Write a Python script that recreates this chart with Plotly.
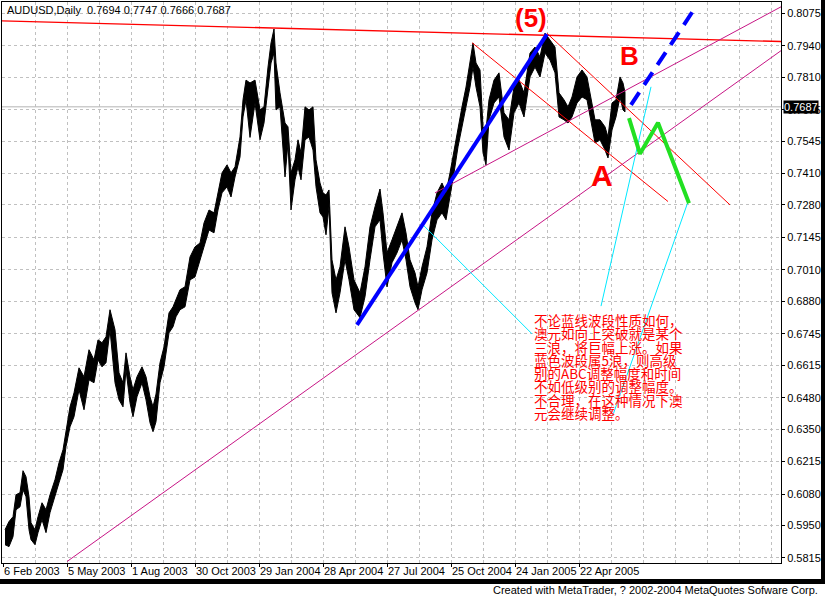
import plotly.graph_objects as go

# ---------------- data ----------------
symbol_text = "AUDUSD,Daily"
last_ohlc = [0.7694, 0.7747, 0.7666, 0.7687]

# bar index = trading days since 6 Feb 2003 (one pixel per bar in the original)
bar_idx = [2, 6, 10, 13, 17, 20, 23, 26, 28, 32, 35, 39, 43, 47, 52, 56, 60, 63, 67, 71,
           76, 81, 86, 91, 95, 99, 103, 107, 112, 116, 120, 123, 127, 130, 134, 139, 143, 147, 150, 153,
           157, 161, 166, 170, 173, 177, 182, 187, 192, 197, 201, 206, 211, 215, 219, 224, 228, 232, 237, 240,
           243, 247, 252, 257, 261, 265, 268, 271, 273, 277, 282, 285, 288, 292, 295, 298, 302, 306, 310, 313,
           317, 320, 323, 326, 329, 333, 337, 342, 346, 351, 357, 362, 367, 372, 377, 380, 384, 389, 394, 399,
           403, 407, 412, 415, 419, 424, 429, 434, 439, 443, 447, 451, 455, 459, 463, 467, 470, 473, 477, 480,
           483, 486, 491, 496, 501, 506, 511, 516, 521, 527, 532, 537, 542, 547, 552, 556, 561, 565, 569, 574,
           579, 584, 588, 592, 597, 602, 605, 609, 613, 617, 620, 622]
high = [0.5932, 0.5966, 0.5986, 0.6077, 0.6086, 0.6177, 0.6152, 0.6069, 0.5961, 0.5932, 0.5986, 0.6044, 0.6015, 0.6077, 0.6140, 0.6210, 0.6264, 0.6347, 0.6442, 0.6500,
        0.6604, 0.6567, 0.6679, 0.6637, 0.6720, 0.6708, 0.6733, 0.6845, 0.6762, 0.6583, 0.6542, 0.6666, 0.6567, 0.6513, 0.6567, 0.6608, 0.6567, 0.6484, 0.6442, 0.6495,
        0.6625, 0.6691, 0.6832, 0.6857, 0.6886, 0.6928, 0.6940, 0.7064, 0.7106, 0.7122, 0.7205, 0.7259, 0.7247, 0.7330, 0.7413, 0.7446, 0.7413, 0.7438, 0.7562, 0.7716,
        0.7798, 0.7786, 0.7798, 0.7674, 0.7687, 0.7852, 0.7952, 0.8010, 0.7869, 0.7745, 0.7620, 0.7604, 0.7413, 0.7467, 0.7550, 0.7496, 0.7687, 0.7674, 0.7687, 0.7467,
        0.7371, 0.7330, 0.7321, 0.7342, 0.7052, 0.6969, 0.7023, 0.7189, 0.7106, 0.6969, 0.6915, 0.7023, 0.7189, 0.7272, 0.7346, 0.7247, 0.7081, 0.7135, 0.7189, 0.7247,
        0.7164, 0.7052, 0.6998, 0.6940, 0.7023, 0.7106, 0.7247, 0.7330, 0.7371, 0.7330, 0.7413, 0.7508, 0.7604, 0.7687, 0.7769, 0.7881, 0.7952, 0.7869, 0.7840, 0.7604,
        0.7591, 0.7716, 0.7798, 0.7828, 0.7662, 0.7633, 0.7769, 0.7798, 0.7745, 0.7910, 0.7935, 0.7894, 0.7993, 0.7964, 0.7935, 0.7745, 0.7716, 0.7687, 0.7728, 0.7811,
        0.7840, 0.7811, 0.7716, 0.7633, 0.7633, 0.7604, 0.7562, 0.7703, 0.7716, 0.7811, 0.7786, 0.7747]
low = [0.5870, 0.5862, 0.5903, 0.6015, 0.6027, 0.6098, 0.6069, 0.5932, 0.5891, 0.5870, 0.5920, 0.5974, 0.5920, 0.6003, 0.6069, 0.6127, 0.6181, 0.6277, 0.6359, 0.6401,
       0.6513, 0.6430, 0.6554, 0.6542, 0.6637, 0.6608, 0.6625, 0.6762, 0.6542, 0.6471, 0.6442, 0.6596, 0.6459, 0.6401, 0.6484, 0.6542, 0.6471, 0.6376, 0.6339, 0.6380,
       0.6542, 0.6608, 0.6749, 0.6774, 0.6816, 0.6845, 0.6857, 0.6969, 0.6981, 0.7052, 0.7106, 0.7176, 0.7164, 0.7259, 0.7330, 0.7355, 0.7313, 0.7396, 0.7479, 0.7645,
       0.7716, 0.7560, 0.7703, 0.7550, 0.7620, 0.7757, 0.7869, 0.7910, 0.7674, 0.7687, 0.7396, 0.7537, 0.7259, 0.7384, 0.7438, 0.7384, 0.7550, 0.7562, 0.7508, 0.7355,
       0.7247, 0.7230, 0.7156, 0.7272, 0.6915, 0.6832, 0.6915, 0.7052, 0.6969, 0.6845, 0.6812, 0.6899, 0.7052, 0.7189, 0.7218, 0.7081, 0.6940, 0.7040, 0.7081, 0.7135,
       0.7052, 0.6940, 0.6874, 0.6845, 0.6928, 0.6998, 0.7135, 0.7218, 0.7247, 0.7218, 0.7313, 0.7413, 0.7521, 0.7604, 0.7687, 0.7769, 0.7852, 0.7769, 0.7687, 0.7496,
       0.7446, 0.7633, 0.7703, 0.7728, 0.7562, 0.7508, 0.7662, 0.7703, 0.7645, 0.7811, 0.7852, 0.7811, 0.7910, 0.7881, 0.7828, 0.7645, 0.7633, 0.7620, 0.7645, 0.7703,
       0.7728, 0.7716, 0.7633, 0.7537, 0.7550, 0.7508, 0.7475, 0.7591, 0.7645, 0.7728, 0.7674, 0.7666]

date_tick_idx = [0, 64, 128, 192, 256, 320, 384, 448, 512, 576]
date_tick_labels = ["6 Feb 2003", "5 May 2003", "1 Aug 2003", "30 Oct 2003", "29 Jan 2004",
                    "28 Apr 2004", "27 Jul 2004", "25 Oct 2004", "24 Jan 2005", "22 Apr 2005"]
grid_idx = [32 * k for k in range(25)]
price_ticks = [0.8075, 0.7940, 0.7810, 0.7675, 0.7545, 0.7410, 0.7280, 0.7145, 0.7010,
               0.6880, 0.6745, 0.6615, 0.6480, 0.6350, 0.6215, 0.6080, 0.5950, 0.5815]
price_tick_labels = ["%.4f" % v for v in price_ticks]

# drawn analysis objects: (bar index list, price list)
red_top_x, red_top_y = [-1, 778], [0.8044, 0.7958]
red_ch1_x, red_ch1_y = [544, 727], [0.7992, 0.7280]
red_ch2_x, red_ch2_y = [469, 665], [0.7953, 0.7294]
mag_long_x, mag_long_y = [64, 778], [0.5800, 0.7920]
mag_up_x, mag_up_y = [432, 778], [0.7330, 0.8102]
blue_x, blue_y = [354, 544], [0.6782, 0.7989]
blue_proj_x, blue_proj_y = [628, 694], [0.7695, 0.8110]
green_x, green_y = [626, 637, 655, 686], [0.7640, 0.7492, 0.7621, 0.7287]
cyan1_x, cyan1_y = [420, 529], [0.7197, 0.6745]
cyan2_x, cyan2_y = [598, 648], [0.6860, 0.7770]
cyan3_x, cyan3_y = [610, 685], [0.6409, 0.7293]

wave_labels = [("(5)", 528, 0.8056, 26), ("B", 626, 0.7898, 26), ("A", 599, 0.7400, 30)]
cn_lines = ["不论蓝线波段性质如何，",
            "澳元如向上突破就是某个",
            "三浪，将巨幅上涨。如果",
            "蓝色波段属5浪，则高级",
            "别的ABC调整幅度和时间",
            "不如低级别的调整幅度。",
            "不合理，在这种情况下澳",
            "元会继续调整。"]

# ---------------- figure ----------------
W, H = 825, 600
L, R, T, B = 2, 781, 2, 563


def pxx(p):
    return (p - L) / (R - L)


def pxy(p):
    return (B - p) / (B - T)


fig = go.Figure()

fig.add_trace(go.Scatter(
    x=bar_idx + bar_idx[::-1], y=high + low[::-1],
    fill="toself", fillcolor="black", mode="lines",
    line=dict(color="black", width=1), hoverinfo="skip", showlegend=False))


def add_line(xs, ys, color, width=1, dash=None):
    fig.add_trace(go.Scatter(x=xs, y=ys, mode="lines",
                             line=dict(color=color, width=width, dash=dash),
                             hoverinfo="skip", showlegend=False))


add_line(red_top_x, red_top_y, "#FF0000", 1.3)
add_line(red_ch1_x, red_ch1_y, "#FF0000", 1)
add_line(red_ch2_x, red_ch2_y, "#FF0000", 1)
add_line(mag_long_x, mag_long_y, "#C71585", 1)
add_line(mag_up_x, mag_up_y, "#C71585", 1)
add_line(cyan1_x, cyan1_y, "#00E8FF", 1)
add_line(cyan2_x, cyan2_y, "#00E8FF", 1)
add_line(cyan3_x, cyan3_y, "#00E8FF", 1)
add_line(blue_x, blue_y, "#0000FF", 4)
add_line(blue_proj_x, blue_proj_y, "#0000FF", 4, "15px,9px")
add_line(green_x, green_y, "#22E022", 4)

annotations = []
annotations.append(dict(xref="paper", yref="paper", x=pxx(5), y=pxy(10),
                        xanchor="left", yanchor="middle", showarrow=False,
                        text=symbol_text + "  " + " ".join("%.4f" % v for v in last_ohlc),
                        font=dict(family="Liberation Sans", size=11, color="black")))
for i, lab in zip(date_tick_idx, date_tick_labels):
    annotations.append(dict(xref="x", yref="paper", x=i, y=pxy(571), xanchor="left",
                            yanchor="middle", showarrow=False, text=lab, xshift=-1,
                            font=dict(family="Liberation Sans", size=11, color="black")))
annotations.append(dict(xref="paper", yref="y", x=1, y=last_ohlc[3], xanchor="left",
                        yanchor="middle", xshift=2, showarrow=False,
                        text="%.4f" % last_ohlc[3], bgcolor="black", borderpad=0,
                        font=dict(family="Liberation Sans", size=11, color="white")))
for txt, xi, yv, sz in wave_labels:
    annotations.append(dict(xref="x", yref="y", x=xi, y=yv, showarrow=False, text="<b>%s</b>" % txt,
                            font=dict(family="Liberation Sans", size=sz, color="#FF0000")))
for k, line in enumerate(cn_lines):
    annotations.append(dict(xref="paper", yref="paper", x=pxx(532), y=pxy(320 + 13.3 * k),
                            xanchor="left", yanchor="middle", showarrow=False, text=line,
                            font=dict(family="Noto Sans CJK SC", size=13.5, color="#FF0000")))
annotations.append(dict(xref="paper", yref="paper", x=pxx(820), y=pxy(590), xanchor="right",
                        yanchor="middle", showarrow=False,
                        text="Created with MetaTrader, ? 2002-2004 MetaQuotes Sofware Corp.",
                        font=dict(family="Liberation Sans", size=11, color="black")))

shapes = [
    dict(type="line", xref="paper", yref="y", x0=0, x1=1, y0=last_ohlc[3], y1=last_ohlc[3],
         line=dict(color="#B4B4B4", width=1), layer="below"),
    dict(type="rect", xref="paper", yref="paper", x0=pxx(0), x1=pxx(825), y0=pxy(584), y1=pxy(579),
         fillcolor="black", line=dict(width=0)),
    dict(type="rect", xref="paper", yref="paper", x0=pxx(821), x1=pxx(826), y0=pxy(584), y1=pxy(-1),
         fillcolor="black", line=dict(width=0)),
]

fig.update_layout(
    width=W, height=H, autosize=False,
    margin=dict(l=L, r=W - R, t=T, b=H - B, pad=0),
    paper_bgcolor="white", plot_bgcolor="white",
    showlegend=False, annotations=annotations, shapes=shapes,
    font=dict(family="Liberation Sans", size=11, color="black"),
)
fig.update_xaxes(
    range=[-1, 778], tickmode="array", tickvals=date_tick_idx,
    ticktext=[""] * len(date_tick_idx), ticks="outside", ticklen=3, tickcolor="black",
    showgrid=True, gridcolor="#C0C0C0", griddash="3px,3px", gridwidth=1,
    minor=dict(tickvals=[g for g in grid_idx if g not in date_tick_idx], showgrid=True,
               gridcolor="#C0C0C0", griddash="3px,3px", ticks=""),
    showline=True, linecolor="black", linewidth=1, mirror=True, zeroline=False,
    automargin=False, fixedrange=True)
fig.update_yaxes(
    range=[0.5794, 0.8122], side="right", tickmode="array", tickvals=price_ticks,
    ticktext=price_tick_labels, ticks="outside", ticklen=3, tickcolor="black",
    tickfont=dict(family="Liberation Sans", size=11, color="black"),
    showgrid=True, gridcolor="#C0C0C0", griddash="3px,3px", gridwidth=1,
    showline=True, linecolor="black", linewidth=1, mirror=True, zeroline=False,
    automargin=False, fixedrange=True)

fig.write_html("out.html", config={"displayModeBar": False},
               post_script="document.body.style.margin='0px';document.body.style.padding='0px';"
                           "document.documentElement.style.overflow='hidden';")
